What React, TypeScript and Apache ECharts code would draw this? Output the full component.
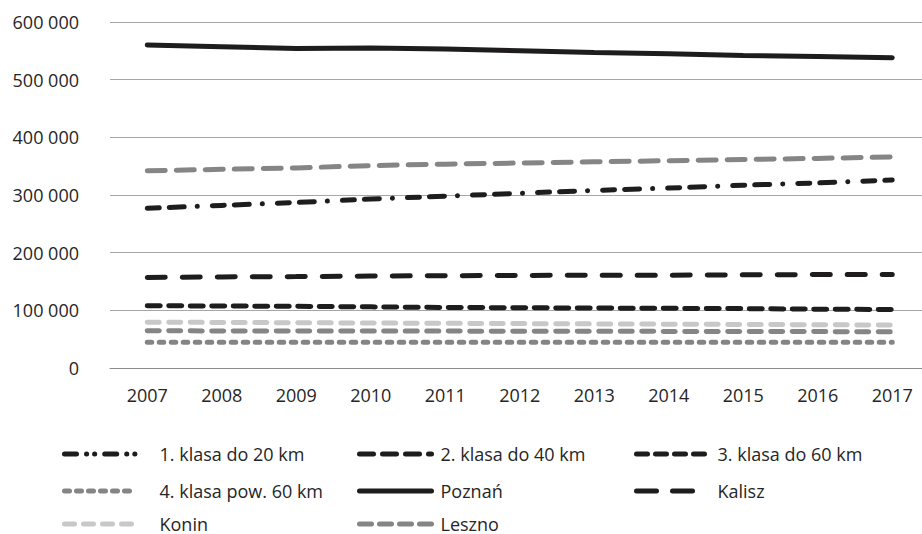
import React, { useEffect, useRef } from "react";
import * as echarts from "echarts";

const years = ["2007", "2008", "2009", "2010", "2011", "2012", "2013", "2014", "2015", "2016", "2017"];
const klasa1 = [277000, 282000, 287000, 293000, 298000, 303000, 308000, 312000, 317000, 321000, 326000];
const klasa2 = [342000, 344500, 347000, 351000, 353500, 355500, 357500, 359500, 361500, 363500, 366000];
const klasa3 = [157000, 158000, 158500, 159500, 160000, 160500, 161000, 161000, 161500, 162000, 162000];
const klasa4 = [44500, 44500, 44500, 44500, 44500, 44500, 44500, 44500, 44500, 44500, 44500];
const poznan = [560000, 557000, 554000, 555000, 553000, 550000, 547000, 545000, 542000, 540000, 538000];
const kalisz = [108000, 107500, 107000, 106000, 105000, 104500, 104000, 103500, 103000, 102000, 101500];
const konin = [79500, 79000, 78500, 78000, 77500, 77000, 76500, 76000, 75500, 75000, 74500];
const leszno = [64500, 64300, 64100, 64000, 64000, 63800, 63600, 63500, 63300, 63100, 63000];
const yTicks = [0, 100000, 200000, 300000, 400000, 500000, 600000];

const names = {
  k1: "1. klasa do 20 km",
  k2: "2. klasa do 40 km",
  k3: "3. klasa do 60 km",
  k4: "4. klasa pow. 60 km",
  pz: "Poznań",
  ka: "Kalisz",
  ko: "Konin",
  le: "Leszno",
};

const BLACK = "#1e1c1d";
const GRAY = "#858585";
const LIGHT = "#c8c8c8";
const FONT = "Open Sans";

function fmt(v: number): string {
  return String(v).replace(/\B(?=(\d{3})+(?!\d))/g, " ");
}

export default function App() {
  const ref = useRef<HTMLDivElement>(null);
  useEffect(() => {
    if (!ref.current) return;
    const chart = echarts.init(ref.current, undefined, { renderer: "svg" });
    const mk = (name: string, data: number[], color: string, width: number, type: any) => ({
      name,
      type: "line",
      data,
      symbol: "none",
      smooth: false,
      lineStyle: { color, width, type, cap: "round" },
      itemStyle: { color },
      emphasis: { disabled: true },
    });
    const rowTop = [444, 481, 514];
    const colLeft = [62, 357, 634];
    const leg = (name: string, col: number, row: number, color: string, type: any) => ({
      orient: "horizontal",
      left: colLeft[col],
      top: rowTop[row],
      padding: 0,
      itemWidth: 72,
      itemHeight: 14,
      selectedMode: false,
      textStyle: {
        fontFamily: FONT,
        fontSize: 18,
        lineHeight: 20,
        color: "#262626",
        padding: [0, 0, 0, col === 0 ? 18 : 4],
      },
      data: [
        {
          name,
          itemStyle: { opacity: 0 },
          lineStyle: { color, width: 5, type, cap: "round" },
        },
      ],
    });
    chart.setOption({
      animation: false,
      grid: { left: 110, right: 2.5, top: 22, bottom: 166, containLabel: false },
      legend: [
        leg(names.k1, 0, 0, BLACK, [12, 10, 0.1, 8, 0.1, 10]),
        leg(names.k4, 0, 1, GRAY, [5, 7]),
        leg(names.ko, 0, 2, LIGHT, [10, 9]),
        leg(names.k2, 1, 0, BLACK, [14, 9]),
        leg(names.pz, 1, 1, BLACK, "solid"),
        leg(names.le, 1, 2, GRAY, [12, 8]),
        leg(names.k3, 2, 0, BLACK, [11, 8]),
        leg(names.ka, 2, 1, BLACK, [20, 16]),
      ],
      xAxis: {
        type: "category",
        data: years,
        boundaryGap: true,
        axisLine: { show: true, lineStyle: { color: "#8c8c8c", width: 1 } },
        axisTick: { show: false },
        axisLabel: { fontFamily: FONT, fontSize: 18, color: "#262626", margin: 18 },
      },
      yAxis: {
        type: "value",
        min: 0,
        max: 600000,
        interval: 100000,
        axisLine: { show: false },
        axisTick: { show: false },
        splitLine: { lineStyle: { color: "#a6a6a6", width: 1 } },
        axisLabel: {
          fontFamily: FONT,
          fontSize: 18,
          color: "#262626",
          margin: 31,
          formatter: (v: number) => (yTicks.includes(v) ? fmt(v) : ""),
        },
      },
      series: [
        mk(names.k1, klasa1, BLACK, 5, [12, 10, 15, 13, 0.1, 15]),
        mk(names.k2, klasa2, GRAY, 5, [18, 11]),
        mk(names.k3, klasa3, BLACK, 5, [18, 17]),
        mk(names.k4, klasa4, GRAY, 5, [4.5, 7.5]),
        mk(names.pz, poznan, BLACK, 5, "solid"),
        mk(names.ka, kalisz, BLACK, 5, [13, 8.5]),
        mk(names.ko, konin, LIGHT, 5, [12, 9.5]),
        mk(names.le, leszno, GRAY, 5, [12, 9.5]),
      ],
    });
    return () => chart.dispose();
  }, []);
  return (
    <div style={{ position: "fixed", left: 0, top: 0, width: 922, height: 534, overflow: "hidden", background: "#fff" }}>
      <div ref={ref} style={{ width: 932, height: 534 }} />
    </div>
  );
}
